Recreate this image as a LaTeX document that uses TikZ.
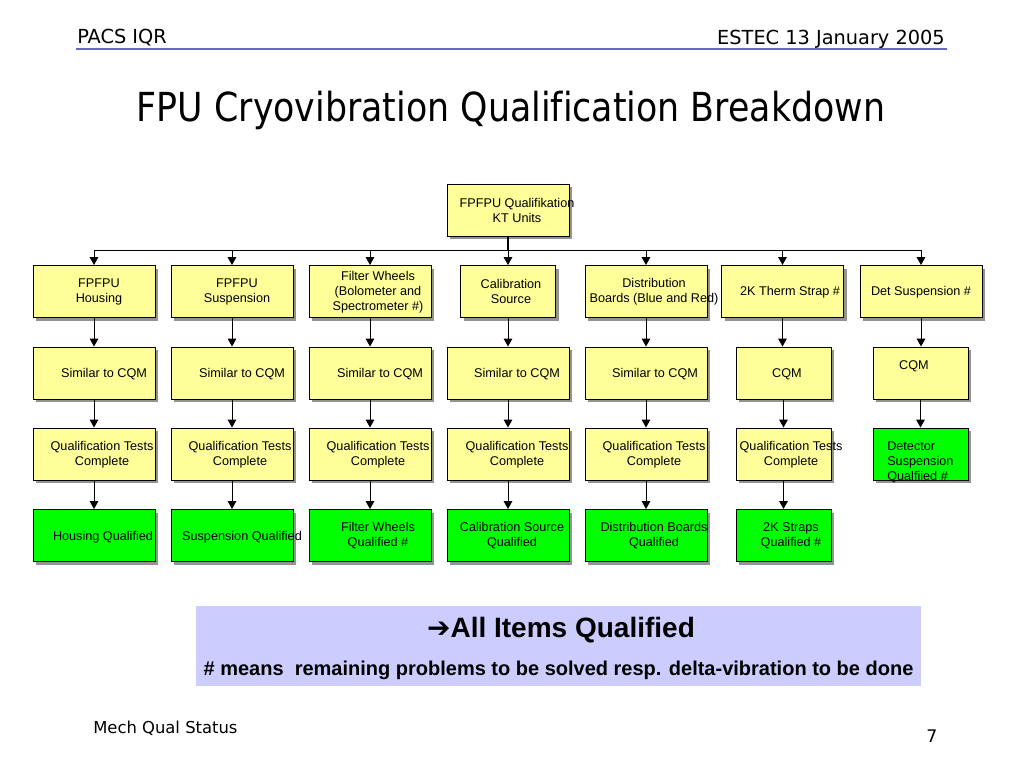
\documentclass[tikz,border=0pt]{standalone}
\usepackage{fontspec}
\setmainfont{Liberation Sans}
\newfontfamily\tahoma[Ligatures=NoCommon]{DejaVu Sans}
\newfontfamily\tahomanarrow[FakeStretch=0.87,Ligatures=NoCommon]{DejaVu Sans}
\usepackage{tikz}
\usetikzlibrary{arrows.meta}
\usetikzlibrary{shadows}
\definecolor{boxyellow}{RGB}{255,255,153}
\definecolor{qualgreen}{RGB}{0,255,0}
\definecolor{notelilac}{RGB}{204,204,255}
\definecolor{rulecol}{RGB}{102,102,204}
\tikzset{
  unit/.style={draw=black,line width=0.75pt,fill=boxyellow,inner sep=0pt,
    minimum width=91.5pt,minimum height=39pt,
    drop shadow={shadow xshift=2.5pt,shadow yshift=-2.5pt,fill=gray!85,opacity=1}},
  small/.style={minimum width=71.25pt},
  done/.style={fill=qualgreen},
  lbl/.style={inner sep=0pt,align=center,font=\fontsize{9.5}{11.25}\selectfont},
  conn/.style={-{Triangle[length=6pt,width=6.5pt]},line width=0.75pt}
}
\begin{document}
\begin{tikzpicture}[line cap=butt,line join=miter,x=0.75pt,y=-0.75pt]
\useasboundingbox (0,0) rectangle (1024,768);
\fill[white] (0,0) rectangle (1024,768);
% header
\node[anchor=base west,inner sep=0pt,font=\tahoma\fontsize{14.5}{17}\selectfont] (hdl) at (77,43) {PACS IQR};
\node[anchor=base east,inner sep=0pt,font=\tahoma\fontsize{14.5}{17}\selectfont] (hdr) at (945,44) {ESTEC 13 January 2005};
\draw[rulecol,line width=1.5pt] (76,49) -- (947,49);
\node[anchor=base,inner sep=0pt,font=\tahomanarrow\fontsize{30}{36}\selectfont] (title) at (511,121) {FPU Cryovibration Qualification Breakdown};
% boxes
\node[unit] (kt) at (508,210) {};
\node[unit] (u1) at (94,291.5) {};
\node[unit] (u2) at (232,291.5) {};
\node[unit] (u3) at (370,291.5) {};
\node[unit,small] (u4) at (508,291.5) {};
\node[unit] (u5) at (646,291.5) {};
\node[unit] (u6) at (782.5,291.5) {};
\node[unit] (u7) at (921,291.5) {};
\node[unit] (m1) at (94,373) {};
\node[unit] (m2) at (232,373) {};
\node[unit] (m3) at (370,373) {};
\node[unit] (m4) at (508,373) {};
\node[unit] (m5) at (646,373) {};
\node[unit,small] (m6) at (783.5,373) {};
\node[unit,small] (m7) at (920.5,373) {};
\node[unit] (t1) at (94,454) {};
\node[unit] (t2) at (232,454) {};
\node[unit] (t3) at (370,454) {};
\node[unit] (t4) at (508,454) {};
\node[unit] (t5) at (646,454) {};
\node[unit,small] (t6) at (783.5,454) {};
\node[unit,small,done] (t7) at (920.5,454) {};
\node[unit,done] (q1) at (94,535.5) {};
\node[unit,done] (q2) at (232,535.5) {};
\node[unit,done] (q3) at (370,535.5) {};
\node[unit,done] (q4) at (508,535.5) {};
\node[unit,done] (q5) at (646,535.5) {};
\node[unit,small,done] (q6) at (783.5,535.5) {};
% connectors
\coordinate (bus) at (508,250);
\draw[line width=1.5pt] (kt.south) -- (bus);
\foreach \n in {u1,u2,u3,u4,u5,u6,u7} \draw[conn] (bus) -| (\n.north);
\foreach \c in {1,...,7} {
  \draw[conn] (u\c.south) -- (u\c.south |- m\c.north);
  \draw[conn] (m\c.south) -- (m\c.south |- t\c.north);
}
\foreach \c in {1,...,6} \draw[conn] (t\c.south) -- (t\c.south |- q\c.north);
% texts
\node[lbl] (ktl) at (517,210.5) {FPFPU Qualifikation\\KT Units};
\node[lbl] (u1l) at (99,291.5) {FPFPU\\Housing};
\node[lbl] (u2l) at (237,291.5) {FPFPU\\Suspension};
\node[lbl] (u3l) at (378,292) {Filter Wheels\\(Bolometer and\\Spectrometer \#)};
\node[lbl] (u4l) at (511,291.5) {Calibration\\Source};
\node[lbl] (u5l) at (654,291.5) {Distribution\\Boards (Blue and Red)};
\node[lbl] (u6l) at (790,292) {2K Therm Strap \#};
\node[lbl] (u7l) at (921,292) {Det Suspension \#};
\node[lbl] (m1l) at (104,374) {Similar to CQM};
\node[lbl] (m2l) at (242,374) {Similar to CQM};
\node[lbl] (m3l) at (380,374) {Similar to CQM};
\node[lbl] (m4l) at (517,374) {Similar to CQM};
\node[lbl] (m5l) at (655,374) {Similar to CQM};
\node[lbl] (m6l) at (787,374) {CQM};
\node[lbl] (m7l) at (914,366.5) {CQM};
\node[lbl] (t1l) at (102,455) {Qualification Tests\\Complete};
\node[lbl] (t2l) at (240,455) {Qualification Tests\\Complete};
\node[lbl] (t3l) at (378,455) {Qualification Tests\\Complete};
\node[lbl] (t4l) at (517,455) {Qualification Tests\\Complete};
\node[lbl] (t5l) at (654,455) {Qualification Tests\\Complete};
\node[lbl] (t6l) at (791,455) {Qualification Tests\\Complete};
\node[lbl,align=left,anchor=west] (t7l) at (887,462.5) {Detector\\Suspension\\Qualfiied \#};
\node[lbl] (q1l) at (103,537) {Housing Qualified};
\node[lbl] (q2l) at (242,537) {Suspension Qualified};
\node[lbl] (q3l) at (378,536) {Filter Wheels\\Qualified \#};
\node[lbl] (q4l) at (512,536) {Calibration Source\\Qualified};
\node[lbl] (q5l) at (654,536) {Distribution Boards\\Qualified};
\node[lbl] (q6l) at (791,536) {2K Straps\\Qualified \#};
% note
\node[fill=notelilac,inner sep=0pt,minimum width=543.75pt,minimum height=60pt] (note) at (558.5,646) {};
\node[inner sep=0pt,font=\bfseries\fontsize{21}{25}\selectfont] (notet) at (561,630) {{\tahoma ➔}All Items Qualified};
\node[inner sep=0pt,font=\bfseries\fontsize{15}{18}\selectfont] (noteb) at (558.5,670) {\# means\ \ remaining problems to be solved resp. delta-vibration to be done};
% footer
\node[anchor=base west,inner sep=0pt,font=\tahoma\fontsize{12.3}{15}\selectfont] (foot) at (93,733) {Mech Qual Status};
\node[anchor=base west,inner sep=0pt,font=\tahoma\fontsize{13}{15}\selectfont] (page) at (926,742) {7};
\end{tikzpicture}
\end{document}
